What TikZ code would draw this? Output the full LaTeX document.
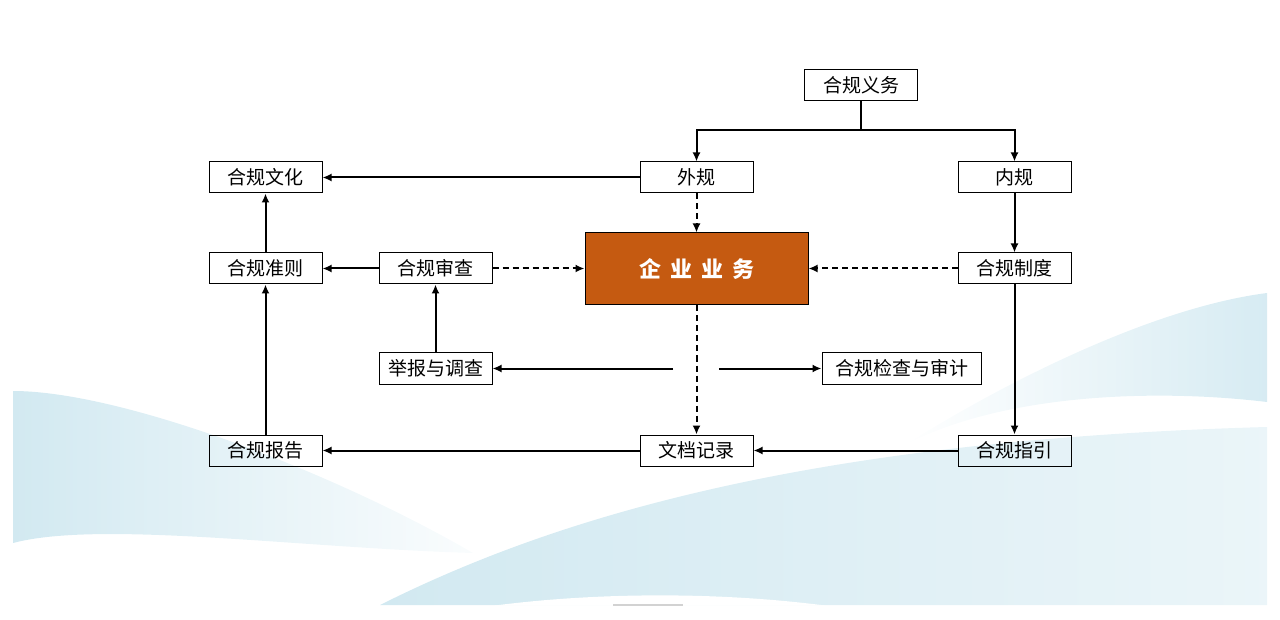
\documentclass[tikz,border=0pt]{standalone}
\usepackage{fontspec}
\newfontfamily\cjk{Noto Sans CJK SC}
\usetikzlibrary{arrows.meta}
\tikzset{>={Latex[length=4.5pt,width=4pt]}}
\definecolor{wave}{HTML}{D2E9F1}
\definecolor{bizorange}{HTML}{C55A11}
\tikzset{
  box/.style={draw=black, line width=.5pt, minimum width=56.5pt,
    minimum height=15.5pt, inner sep=0pt, font=\cjk\fontsize{9.5}{11}\selectfont},
  link/.style={line width=1pt, ->},
  dlink/.style={line width=1pt, ->, dash pattern=on 3pt off 2pt},
}

\begin{document}
\begin{tikzpicture}[x=.5pt, y=-.5pt]
      \useasboundingbox (0,0) rectangle (1280,620);
      % waves
      \shade[left color=wave, right color=wave!12] (13,391) .. controls (120,391) and (330,470) .. (473,553)
        .. controls (300,548) and (100,520) .. (13,543) -- cycle;
      \shade[left color=white, right color=wave!90] (905,445) .. controls (1000,385) and (1150,308) .. (1267,293)
        -- (1267,402) .. controls (1150,388) and (1000,395) .. (905,445) -- cycle;
      \shade[left color=wave, middle color=wave, right color=wave!45] (380,605) .. controls (550,520) and (800,440) .. (1267,427)
        -- (1267,605) -- cycle;
      \fill[white] (495,605.5) .. controls (600,592) and (720,592) .. (825,605.5) -- cycle;
      \draw[gray!35, line width=.8pt] (613,605) -- (683,605);
      % nodes
      \node[box] (yiwu) at (861,85) {合规义务};
      \node[box] (waigui) at (696.5,177.5) {外规};
      \node[box] (neigui) at (1014.5,177.5) {内规};
      \node[box] (wenhua) at (265.5,177.5) {合规文化};
      \node[box] (zhunze) at (265.5,268.5) {合规准则};
      \node[box] (shencha) at (435.5,268.5) {合规审查};
      \node[box] (zhidu) at (1014.5,268.5) {合规制度};
      \node[draw=black, line width=.5pt, fill=bizorange, minimum width=111.5pt, minimum height=36pt,
        text=white, font=\cjk\bfseries\fontsize{11}{13}\selectfont] (yewu) at (696.5,269)
        {企\hspace{4.5pt}业\hspace{4.5pt}业\hspace{4.5pt}务};
      \node[box] (jubao) at (435.5,368.5) {举报与调查};
      \node[box, minimum width=79.5pt] (jiancha) at (901.5,368.5) {合规检查与审计};
      \node[box] (baogao) at (265.5,450.5) {合规报告};
      \node[box] (wendang) at (696.5,450.5) {文档记录};
      \node[box] (zhiyin) at (1014.5,450.5) {合规指引};
      \coordinate (fork) at (861,130);
      \coordinate (gapL) at (673,368.5);
      \coordinate (gapR) at (719,368.5);
      % lines
      \draw[line width=1pt] (yiwu) -- (fork);
      \draw[link] (fork) -| (waigui);
      \draw[link] (fork) -| (neigui);
      \draw[link] (waigui) -- (wenhua);
      \draw[dlink] (waigui) -- (yewu);
      \draw[link] (neigui) -- (zhidu);
      \draw[dlink] (zhidu.west) -- (zhidu.west -| yewu.east);
      \draw[dlink] (shencha.east) -- (shencha.east -| yewu.west);
      \draw[link] (shencha) -- (zhunze);
      \draw[link] (zhunze) -- (wenhua);
      \draw[link] (jubao) -- (shencha);
      \draw[dlink] (yewu) -- (wendang);
      \draw[link] (gapL) -- (jubao);
      \draw[link] (gapR) -- (jiancha);
      \draw[link] (zhidu) -- (zhiyin);
      \draw[link] (zhiyin) -- (wendang);
      \draw[link] (wendang) -- (baogao);
      \draw[link] (baogao) -- (zhunze);
\end{tikzpicture}
\end{document}
